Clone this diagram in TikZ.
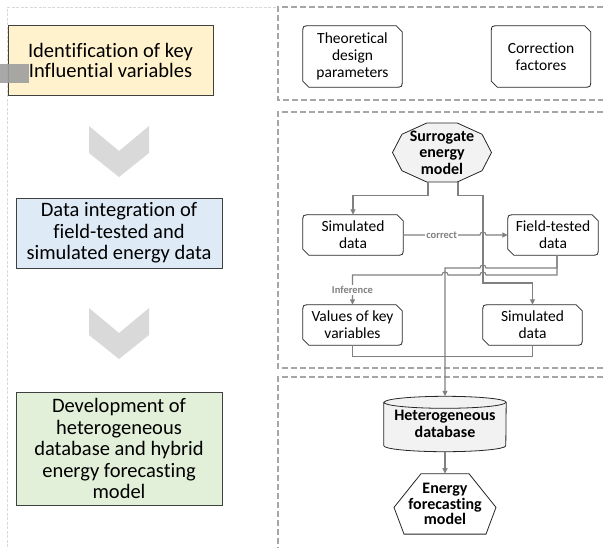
\documentclass[tikz,border=0pt]{standalone}
\usepackage{fontspec}
\setmainfont{Carlito}[Ligatures={NoCommon}]
\usetikzlibrary{arrows.meta,calc,positioning,backgrounds}

\definecolor{stepyellow}{HTML}{FFF2CC}
\definecolor{stepblue}{HTML}{DEEBF7}
\definecolor{stepgreen}{HTML}{E2F0D9}
\definecolor{linkgray}{HTML}{808080}
\definecolor{framegray}{HTML}{A6A6A6}
\definecolor{chevgray}{HTML}{D9D9D9}
\definecolor{shadegray}{HTML}{F2F2F2}

\begin{document}
\begin{tikzpicture}[
    x=1pt, y=-1pt,
    >={Triangle[length=5.5pt,width=5pt]},
    stage/.style={draw=black!75, line width=0.9pt, align=center, inner sep=0pt, minimum width=206pt, minimum height=70pt, font=\fontsize{20.5}{21.5}\selectfont},
    proc/.style={align=center, inner sep=0pt, minimum width=99pt, minimum height=40pt, font=\fontsize{15.5}{17}\selectfont},
    boldproc/.style={align=center, inner sep=0pt, font=\bfseries\fontsize{16}{16.5}\selectfont},
    procline/.style={draw=black!85, line width=0.8pt},
    panel/.style={draw=framegray, line width=1.1pt, dash pattern=on 6pt off 3pt},
    link/.style={draw=linkgray, line width=1.1pt},
    lbl/.style={fill=white, inner sep=1pt, text=linkgray, font=\bfseries\fontsize{10.5}{12}\selectfont}
]
\useasboundingbox (0,0) rectangle (603,547);

\draw[draw=black!15, line width=0.6pt, dash pattern=on 3pt off 1.5pt] (7,547) -- (7,7) -- (278,7);
\draw[panel] (612,7) -- (278,7) -- (278,100) -- (612,100);
\draw[panel] (612,112) -- (278,112) -- (278,368) -- (612,368);
\draw[panel] (612,377) -- (278,377) -- (278,560);

\node[stage, fill=stepyellow, minimum width=205pt, font=\fontsize{20.5}{20}\selectfont] (ident) at (110.5,60) {Identification of key\\Influential variables};
\node[stage, fill=stepblue] (integ) at (119,233) {Data integration of\\field-tested and\\simulated energy data};
\node[stage, fill=stepgreen, minimum height=113pt] (devel) at (119,448.5) {Development of\\heterogeneous\\database and hybrid\\energy forecasting\\model};
\fill[black!38, opacity=0.9] (0,64) rectangle (29,83);

\foreach \y in {126,308}
  \fill[chevgray] (89,\y) -- (119,\y+25) -- (149,\y) -- (149,\y+27) -- (119,\y+51) -- (89,\y+27) -- cycle;

\node[proc, minimum height=61pt] (theo) at (352.5,56.5) {Theoretical\\design\\parameters};
\node[proc, minimum height=61pt] (corr) at (541,56.5) {Correction\\factores};
\node[proc, minimum width=100pt] (sim) at (353,235) {Simulated\\data};
\node[proc, minimum width=90pt] (field) at (553,235) {Field-tested\\data};
\node[proc] (vals) at (352.5,325) {Values of key\\variables};
\node[proc] (simb) at (532.5,325) {Simulated\\data};

\foreach \n in {theo,corr,sim,field,vals,simb}
  \draw[procline] ([xshift=-6pt]\n.north east) -- ([xshift=7pt]\n.north west) .. controls (\n.north west) .. ([yshift=-7pt]\n.north west) -- ([yshift=6pt]\n.south west) -- ([xshift=6pt]\n.south west) -- ([xshift=-7pt]\n.south east) .. controls (\n.south east) .. ([yshift=7pt]\n.south east) -- ([yshift=-6pt]\n.north east) -- cycle;

\node[boldproc, minimum width=99pt, minimum height=59pt] (surr) at (442,152.5) {Surrogate\\energy\\model};
\node[boldproc, minimum width=122pt, minimum height=55pt] (db) at (445,424) {Heterogeneous\\database};
\node[boldproc, minimum width=101pt, minimum height=60pt, font=\bfseries\fontsize{16}{15.5}\selectfont] (energy) [below=22pt of db] {Energy\\forecasting\\model};

\begin{scope}[on background layer]
  \draw[procline, fill=shadegray, shift={(surr.center)}] (0:49.5 and 31) \foreach \a in {36,72,...,324} {-- (\a:49.5 and 31)} -- cycle;
  \draw[procline, fill=shadegray] ([yshift=-6pt]db.north west) -- ([yshift=6pt]db.south west) arc[start angle=180, end angle=360, x radius=61pt, y radius=6pt] -- ([yshift=-6pt]db.north east) arc[start angle=0, end angle=180, x radius=61pt, y radius=6pt] -- cycle;
  \draw[procline] ([yshift=-6pt]db.north west) arc[start angle=180, end angle=360, x radius=61pt, y radius=6pt];
  \draw[procline, fill=white] ([xshift=-24pt]energy.north) -- ([xshift=24pt]energy.north) -- ([xshift=51pt,yshift=-3.5pt]energy.center) -- ([xshift=41pt]energy.south) -- ([xshift=-41pt]energy.south) -- ([xshift=-51pt,yshift=-3.5pt]energy.center) -- cycle;
\end{scope}

\coordinate (jx) at (483,283);
\coordinate (dbx) at (445,268);
\coordinate (infy) at (352.5,275);

\draw[link,->] ([xshift=-14pt]surr.south) -- ++(0,13) -| (sim.north);
\draw[link,->] ([xshift=16pt]surr.south) -- ++(0,13) -| (jx) -| (simb.north);
\draw[link,->] (sim.east) -- node[lbl]{correct} ($(sim.east -| jx)+(-3,0)$) arc[start angle=180, end angle=0, radius=3pt] -- (field.west);
\draw[link,->] ([xshift=4pt]field.south) |- ($(jx |- dbx)+(3,0)$) arc[start angle=0, end angle=180, radius=3pt] -- (dbx) -- (db.north);
\draw[link,->] ([xshift=4pt]field.south) |- ($(jx |- infy)+(3,0)$) arc[start angle=0, end angle=180, radius=3pt] -- ($(dbx |- infy)+(3,0)$) arc[start angle=0, end angle=180, radius=3pt] -- (infy) -- node[lbl]{Inference} (vals.north);
\draw[link] (vals.south) -- ++(0,11) -| (simb.south);
\draw[link,->] (db.south) -- (energy.north);
\end{tikzpicture}
\end{document}
